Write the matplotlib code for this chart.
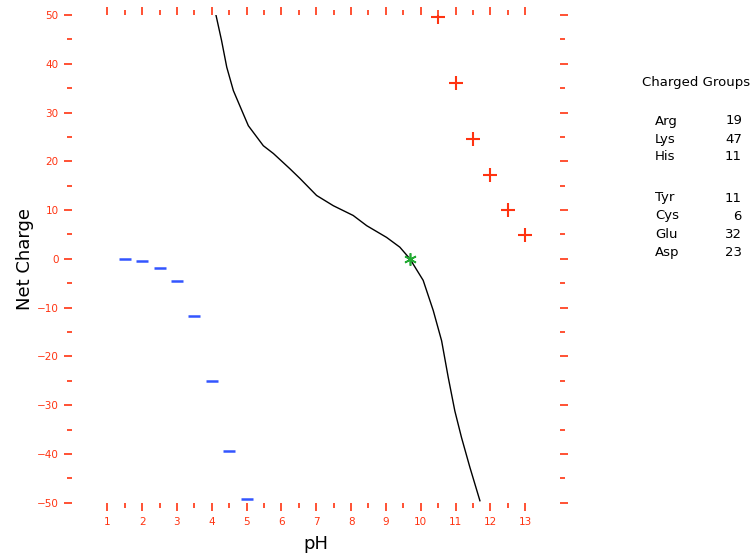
import matplotlib.pyplot as plt
from matplotlib.ticker import MultipleLocator, FixedLocator

# titration curve (pH vs net charge)
curve_ph = [4.12, 4.28, 4.43, 4.62, 4.90, 5.05, 5.48, 5.77, 6.24, 6.53, 7.01,
            7.49, 8.06, 8.45, 9.02, 9.40, 9.69, 10.07, 10.36, 10.60, 10.79,
            10.98, 11.17, 11.41, 11.70]
curve_charge = [50, 44.8, 39.3, 34.5, 29.8, 27.3, 23.2, 21.6, 18.5, 16.5, 13.0,
                10.9, 8.9, 6.8, 4.4, 2.4, 0, -4.4, -10.6, -16.8, -24.3,
                -31.2, -36.6, -42.7, -49.6]

# isoelectric point
pi_ph = 9.69
pi_charge = 0

# positive markers
pos_ph = [10.5, 11.0, 11.5, 12.0, 12.5, 13.0]
pos_charge = [49.5, 36.0, 24.6, 17.1, 10.1, 4.8]

# negative markers
neg_ph = [1.5, 2.0, 2.5, 3.0, 3.5, 4.0, 4.5, 5.0]
neg_charge = [0, -0.5, -1.8, -4.6, -11.8, -25.0, -39.5, -49.3]

groups = ["Arg", "Lys", "His", "Tyr", "Cys", "Glu", "Asp"]
counts = [19, 47, 11, 11, 6, 32, 23]

red = '#ff3311'

fig = plt.figure(figsize=(7.52, 5.57), dpi=100)
ax = fig.add_axes([0.0964, 0.0975, 0.6483, 0.8755])

ax.plot(curve_ph, curve_charge, color='black', lw=1)
ax.plot(pos_ph, pos_charge, ls='none', marker='+', color=red, ms=10, mew=1.5)
ax.plot(neg_ph, neg_charge, ls='none', marker='_', color='#3355ff', ms=9, mew=1.8)
ax.plot([pi_ph], [pi_charge], ls='none', marker=(6, 2, 0), color='#22aa33', ms=9, mew=1.2)

ax.set_xlim(0, 14)
ax.set_ylim(-50, 50)

for s in ax.spines.values():
    s.set_visible(False)

ax.xaxis.set_major_locator(FixedLocator(range(1, 14)))
ax.xaxis.set_minor_locator(FixedLocator([i + 0.5 for i in range(1, 13)]))
ax.yaxis.set_major_locator(MultipleLocator(10))
ax.yaxis.set_minor_locator(MultipleLocator(5))

ax.tick_params(axis='both', which='both', direction='out', color=red,
               labelcolor=red, labelsize=7.5, width=1.2,
               top=True, right=True, labeltop=False, labelright=False)
ax.tick_params(axis='both', which='major', length=6, pad=4)
ax.tick_params(axis='both', which='minor', length=3.5)

ax.set_xlabel("pH", fontsize=13, labelpad=6)
ax.set_ylabel("Net Charge", fontsize=13, labelpad=2)

# charged groups panel
fig.text(696 / 752, 1 - 82 / 557, "Charged Groups", fontsize=9.5,
         ha='center', va='center')
rows_y = [121, 139, 157, 198, 216, 234, 252]
for name, n, yy in zip(groups, counts, rows_y):
    fig.text(655 / 752, 1 - yy / 557, name, fontsize=9.5, ha='left', va='center')
    fig.text(742 / 752, 1 - yy / 557, str(n), fontsize=9.5, ha='right', va='center')

fig.savefig("out.png", dpi=100)
